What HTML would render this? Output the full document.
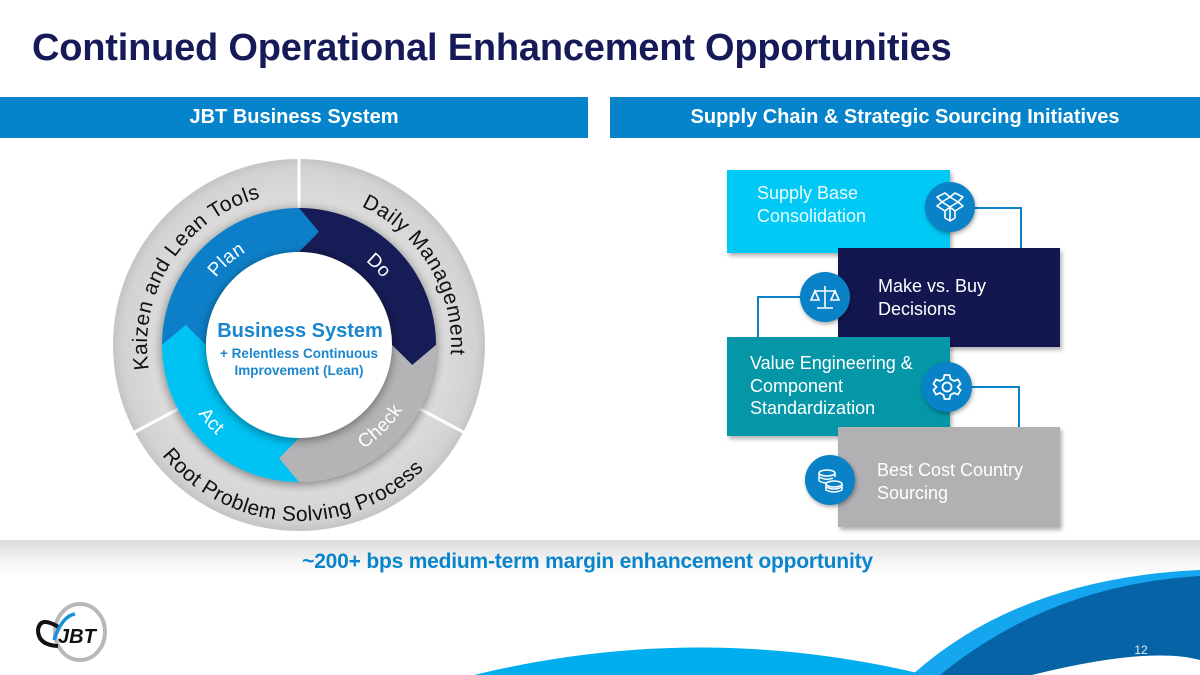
<!DOCTYPE html>
<html><head><meta charset="utf-8">
<style>
html,body{margin:0;padding:0;background:#fff;}
body{width:1200px;height:675px;position:relative;overflow:hidden;font-family:"Liberation Sans",Arial,sans-serif;}
.title{position:absolute;left:32px;top:27px;font-size:38px;font-weight:bold;color:#161a58;letter-spacing:-0.2px;white-space:nowrap;}
.bar{position:absolute;top:97px;height:41px;background:#0584cc;color:#fff;font-weight:bold;font-size:20px;line-height:41px;text-align:center;}
.box{position:absolute;box-shadow:2px 3px 4px rgba(0,0,0,0.3);color:#fff;font-size:18px;line-height:22.5px;}
.icon{position:absolute;width:50px;height:50px;border-radius:50%;background:#0a82c8;box-shadow:1px 2px 4px rgba(0,0,0,0.35);}
.icon svg{position:absolute;left:0;top:0;}
.line{position:absolute;background:#0a82c8;}
.band{position:absolute;left:0;top:540px;width:1200px;height:36px;background:linear-gradient(#dcdcdc,#f4f4f4 60%,#fff);}
.bandtext{position:absolute;left:0;width:1175px;top:550px;text-align:center;font-weight:bold;font-size:21px;color:#0a84cc;letter-spacing:-0.2px;}
</style></head><body>
<div class="title">Continued Operational Enhancement Opportunities</div>
<div class="bar" style="left:0;width:588px;">JBT Business System</div>
<div class="bar" style="left:610px;width:590px;">Supply Chain &amp; Strategic Sourcing Initiatives</div>

<svg width="600" height="560" style="position:absolute;left:0;top:0;" viewBox="0 0 600 560">
<defs>
<radialGradient id="og" cx="50%" cy="50%" r="50%">
<stop offset="0" stop-color="#d0d0d0"/><stop offset="0.8" stop-color="#dadada"/><stop offset="0.95" stop-color="#d2d2d2"/><stop offset="1" stop-color="#c4c4c4"/>
</radialGradient>
<filter id="sh" x="-20%" y="-20%" width="140%" height="140%"><feGaussianBlur in="SourceAlpha" stdDeviation="5"/><feOffset dx="0" dy="2"/><feComponentTransfer><feFuncA type="linear" slope="0.45"/></feComponentTransfer><feMerge><feMergeNode/><feMergeNode in="SourceGraphic"/></feMerge></filter>
<path id="cw152" d="M0,152 A152,152 0 1 1 0,-152 A152,152 0 1 1 0,152"/>
<path id="ccw176" d="M-176,0 A176,176 0 1 0 176,0 A176,176 0 1 0 -176,0"/>
<path id="cw107" d="M0,107 A107,107 0 1 1 0,-107 A107,107 0 1 1 0,107"/>
<path id="ccw122" d="M-122,0 A122,122 0 1 0 122,0 A122,122 0 1 0 -122,0"/>
<path id="seg" d="M-137,0 A137,137 0 0 1 0,-137 L19.97,-113.3 L0,-93 A93,93 0 0 0 -93,0 L-113.3,-19.97 Z"/>
</defs>
<g transform="translate(299,345)">
<circle r="186" fill="url(#og)"/>
<line x1="0" y1="-186" x2="0" y2="-137" stroke="#fff" stroke-width="3"/>
<line x1="-121" y1="64" x2="-166" y2="88" stroke="#fff" stroke-width="3"/>
<line x1="121" y1="64" x2="166" y2="88" stroke="#fff" stroke-width="3"/>
<g filter="url(#sh)">
<use href="#seg" fill="#0a7fc8"/>
<use href="#seg" fill="#141a55" transform="rotate(90)"/>
<use href="#seg" fill="#b4b4b6" transform="rotate(180)"/>
<use href="#seg" fill="#00c2f3" transform="rotate(270)"/>
</g>
<circle r="93" fill="#fff" filter="url(#sh)"/>
<g font-family="Liberation Sans, Arial, sans-serif" font-size="21" fill="#111">
<text><textPath href="#cw152" startOffset="34.2%" text-anchor="middle" letter-spacing="0.6">Kaizen and Lean Tools</textPath></text>
<text><textPath href="#cw152" startOffset="66.4%" text-anchor="middle" letter-spacing="0.6">Daily Management</textPath></text>
<text><textPath href="#ccw176" startOffset="24.2%" text-anchor="middle" letter-spacing="0.4">Root Problem Solving Process</textPath></text>
</g>
<g font-family="Liberation Sans, Arial, sans-serif" font-size="19" fill="#fff">
<text><textPath href="#cw107" startOffset="38.8%" text-anchor="middle" letter-spacing="0.5">Plan</textPath></text>
<text><textPath href="#cw107" startOffset="62.5%" text-anchor="middle">Do</textPath></text>
<text><textPath href="#ccw122" startOffset="11.4%" text-anchor="middle" letter-spacing="0.5">Act</textPath></text>
<text><textPath href="#ccw122" startOffset="37.5%" text-anchor="middle" letter-spacing="0.5">Check</textPath></text>
</g>
<g font-family="Liberation Sans, Arial, sans-serif" font-weight="bold" fill="#1a86cc" text-anchor="middle">
<text x="1" y="-8" font-size="20">Business System</text>
<text x="0" y="13" font-size="13.5">+ Relentless Continuous</text>
<text x="0" y="30" font-size="13.5">Improvement (Lean)</text>
</g>
</g>
</svg>

<div class="line" style="left:950px;top:207px;width:72px;height:1.5px;"></div>
<div class="line" style="left:1020px;top:207px;width:1.5px;height:42px;"></div>
<div class="line" style="left:757px;top:296px;width:70px;height:1.5px;"></div>
<div class="line" style="left:757px;top:296px;width:1.5px;height:42px;"></div>
<div class="line" style="left:947px;top:386px;width:72px;height:1.5px;"></div>
<div class="line" style="left:1018px;top:386px;width:1.5px;height:42px;"></div>

<div class="box" style="left:727px;top:170px;width:223px;height:83px;background:#00c9f6;color:#eafaff;">
<div style="position:absolute;left:30px;top:12px;">Supply Base<br>Consolidation</div></div>
<div class="box" style="left:838px;top:248px;width:222px;height:99px;background:#141650;">
<div style="position:absolute;left:40px;top:27px;">Make vs. Buy<br>Decisions</div></div>
<div class="box" style="left:727px;top:337px;width:223px;height:99px;background:#0597a7;">
<div style="position:absolute;left:23px;top:15px;">Value Engineering &amp;<br>Component<br>Standardization</div></div>
<div class="box" style="left:838px;top:427px;width:222px;height:100px;background:#b1b1b3;">
<div style="position:absolute;left:39px;top:32px;">Best Cost Country<br>Sourcing</div></div>

<div class="icon" style="left:925px;top:182px;"><svg width="50" height="50" fill="none" stroke="#fff" stroke-width="1.6" stroke-linejoin="round">
<path d="M17 20 L25 15 L33 20 L25 25 Z M17 20 L12 24 L20 29 L25 25 M33 20 L38 24 L30 29 L25 25 M20 29 V36 L25 39 L30 36 V29 M25 25 V39 M17 20 L12 15 L20 11 L25 15 M33 20 L38 15 L30 11 L25 15"/></svg></div>
<div class="icon" style="left:800px;top:272px;"><svg width="50" height="50" fill="none" stroke="#fff" stroke-width="1.6">
<path d="M25 14 V35 M17 36 H33 M14 19 H36 M15 19 L11 28 H19 Z M35 19 L31 28 H39 Z"/></svg></div>
<div class="icon" style="left:922px;top:362px;"><svg width="50" height="50" fill="none" stroke="#fff" stroke-width="1.8">
<path d="M22.5 13 H27.5 L28.5 17 L32 19 L36 17.5 L38.5 22 L35.5 25 L38.5 28 L36 32.5 L32 31 L28.5 33 L27.5 37 H22.5 L21.5 33 L18 31 L14 32.5 L11.5 28 L14.5 25 L11.5 22 L14 17.5 L18 19 L21.5 17 Z"/><circle cx="25" cy="25" r="4.5"/></svg></div>
<div class="icon" style="left:805px;top:455px;"><svg width="50" height="50" fill="none" stroke="#fff" stroke-width="1.5">
<ellipse cx="22" cy="18" rx="8" ry="3"/><path d="M14 18 V26 M30 18 V22 M14 22 Q22 26 28 23 M14 26 Q18 28 22 28"/><ellipse cx="29" cy="29" rx="8" ry="3"/><path d="M21 29 V35 Q29 39 37 35 V29 M21 32 Q29 36 37 32"/></svg></div>

<div class="band"></div>
<div class="bandtext">~200+ bps medium-term margin enhancement opportunity</div>

<svg width="1200" height="675" style="position:absolute;left:0;top:0;" viewBox="0 0 1200 675">
<path d="M474 675 Q700 620 926 675 Z" fill="#00aef0"/>
<path d="M912 675 Q1020 578 1200 570 L1200 600 L940 675 Z" fill="#14a6ee"/>
<path d="M940 675 Q1050 585 1200 576 L1200 660 Q1150 646 1032 675 Z" fill="#0563a6"/>
<text x="1141" y="654" font-family="Liberation Sans, Arial, sans-serif" font-size="12" fill="#e8eef5" text-anchor="middle">12</text>
<ellipse cx="80" cy="632" rx="25" ry="28" fill="none" stroke="#b8b8bc" stroke-width="4"/>
<path d="M60 628 Q40 615 38 630 Q38 645 58 646" fill="none" stroke="#111" stroke-width="4"/>
<path d="M54 640 Q62 616 75 614" fill="none" stroke="#1a8fd8" stroke-width="3.5"/>
<text x="58" y="643" font-family="Liberation Sans, Arial, sans-serif" font-size="20" font-weight="bold" font-style="italic" fill="#111">JBT</text>
</svg>
</body></html>
